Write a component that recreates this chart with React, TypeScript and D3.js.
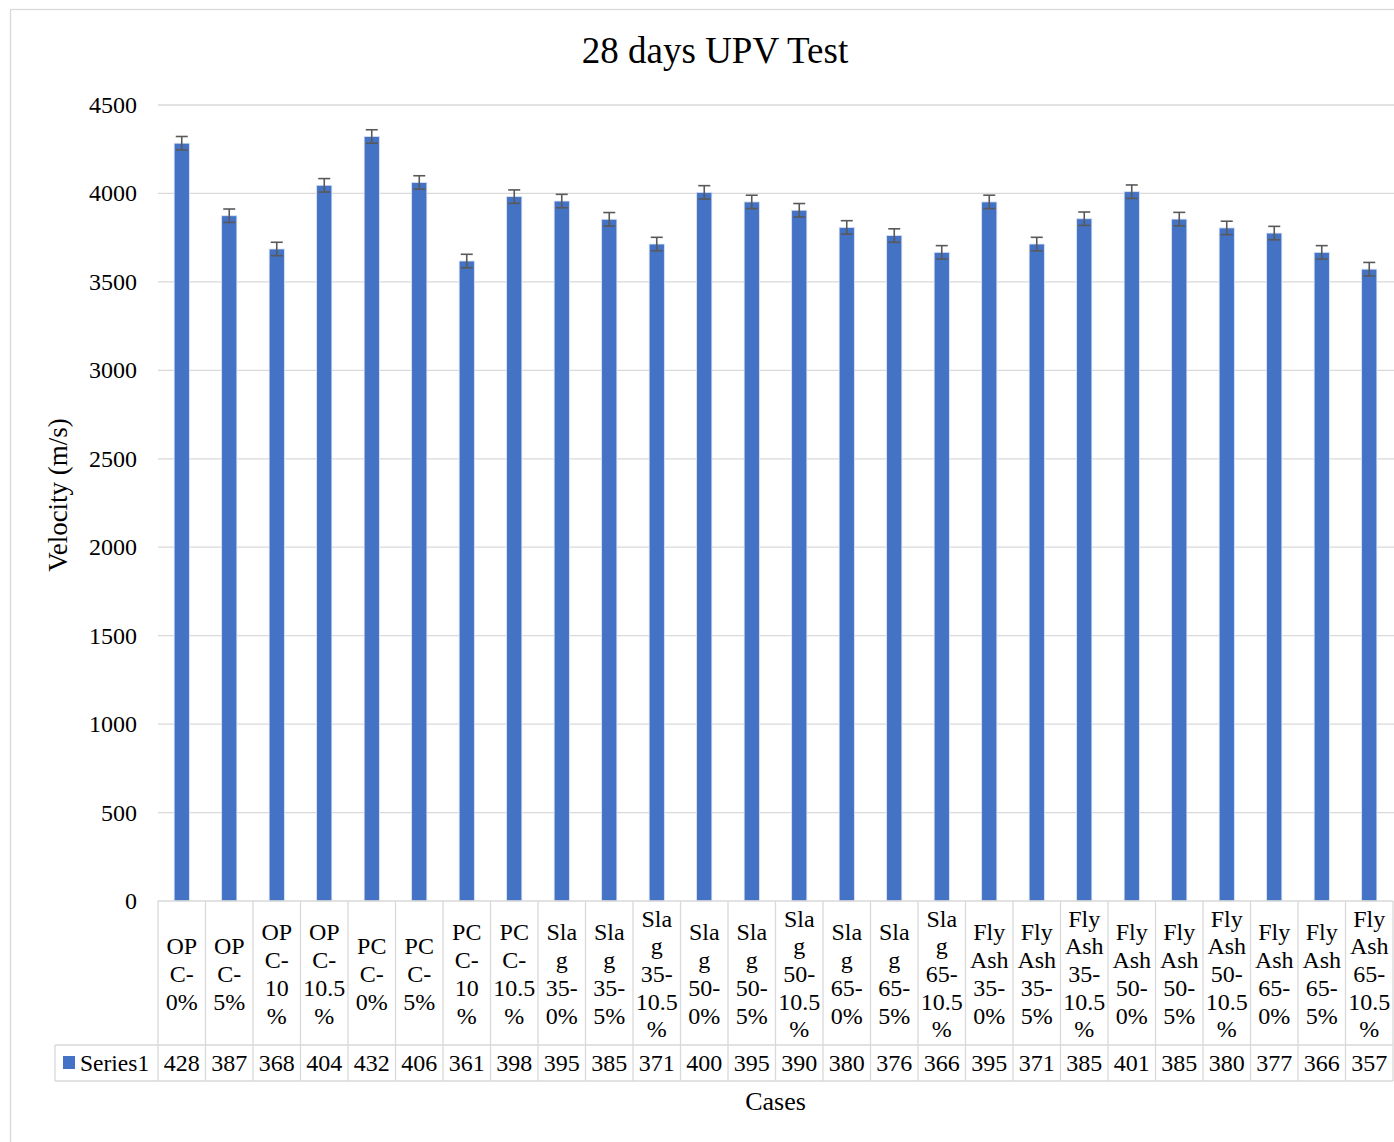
import React from 'react';
import * as d3 from 'd3';

const categories = [
  "OPC-0%", "OPC-5%", "OPC-10%", "OPC-10.5%",
  "PCC-0%", "PCC-5%", "PCC-10%", "PCC-10.5%",
  "Slag 35-0%", "Slag 35-5%", "Slag 35-10.5%",
  "Slag 50-0%", "Slag 50-5%", "Slag 50-10.5%",
  "Slag 65-0%", "Slag 65-5%", "Slag 65-10.5%",
  "Fly Ash 35-0%", "Fly Ash 35-5%", "Fly Ash 35-10.5%",
  "Fly Ash 50-0%", "Fly Ash 50-5%", "Fly Ash 50-10.5%",
  "Fly Ash 65-0%", "Fly Ash 65-5%", "Fly Ash 65-10.5%"
];

const velocity = [
  4284, 3874, 3686, 4046, 4322, 4062, 3618, 3982, 3957, 3854, 3714, 4006, 3952,
  3905, 3808, 3762, 3667, 3952, 3714, 3857, 4010, 3855, 3805, 3776, 3667, 3572
];

const errors = [
  38, 38, 38, 38, 38, 38, 38, 38, 38, 38, 38, 38, 38,
  38, 38, 38, 38, 38, 38, 38, 38, 38, 38, 38, 38, 38
];

// what the data table shows (cut off to 3 digits in the original)
const tableLabels = [
  "428", "387", "368", "404", "432", "406", "361", "398", "395", "385", "371", "400", "395",
  "390", "380", "376", "366", "395", "371", "385", "401", "385", "380", "377", "366", "357"
];

const yTicks = [0, 500, 1000, 1500, 2000, 2500, 3000, 3500, 4000, 4500];

const FONT = "'Liberation Serif', 'Times New Roman', serif";

let ctx: CanvasRenderingContext2D | null = null;
const measure = (s: string) => {
  if (!ctx) {
    ctx = document.createElement('canvas').getContext('2d');
    if (ctx) ctx.font = "24px 'Liberation Serif'";
  }
  return ctx ? ctx.measureText(s).width : s.length * 11;
};

// rough imitation of Excel wrapping in the narrow table cells
const wrap = (label: string, maxW: number) => {
  const tokens: { t: string; space: boolean }[] = [];
  label.split(' ').forEach((w, wi) => {
    const parts = w.split(/(?<=-)/);
    parts.forEach((p, pi) => tokens.push({ t: p, space: wi > 0 && pi === 0 }));
  });
  const lines: string[] = [];
  let cur = '';
  tokens.forEach(({ t, space }) => {
    const joined = cur ? cur + (space ? ' ' : '') + t : t;
    if (measure(joined) <= maxW) { cur = joined; return; }
    if (cur) lines.push(cur);
    cur = '';
    let chunk = '';
    for (const ch of t) {
      if (measure(chunk + ch) <= maxW || !chunk) chunk += ch;
      else { lines.push(chunk); chunk = ch; }
    }
    cur = chunk;
  });
  if (cur) lines.push(cur);
  return lines;
};

const App = () => {
  const left = 158, right = 1393, top = 105, bottom = 901;
  const x = d3.scaleBand<string>().domain(categories).range([left, right]).padding(0);
  const y = d3.scaleLinear().domain([0, 4500]).range([bottom, top]);
  const bw = x.bandwidth();
  const barW = bw * 0.32;

  const headerBottom = 1045, tableBottom = 1081, legendLeft = 55;
  const headerMid = (bottom + headerBottom) / 2 + 1;
  const lineH = 27.7;
  const grid = '#d9d9d9';

  return (
    <svg width={1394} height={1142} style={{ position: 'absolute', left: 0, top: 0, fontFamily: FONT }}>
      <rect x={0} y={0} width={1394} height={1142} fill="#fff" />
      <rect x={10.5} y={9.5} width={1500} height={1300} fill="#fff" stroke={grid} strokeWidth={1.3} />

      <text x={715} y={63} textAnchor="middle" fontSize={37} fill="#000">28 days UPV Test</text>

      {yTicks.map(t => (
        <g key={t}>
          {t > 0 && <line x1={left} x2={1394} y1={y(t)} y2={y(t)} stroke={grid} strokeWidth={1.3} />}
          <text x={137} y={y(t) + 8} textAnchor="end" fontSize={24} fill="#000">{t}</text>
        </g>
      ))}

      {categories.map((c, i) => {
        const cx = (x(c) as number) + bw / 2;
        return (
          <g key={c}>
            <rect x={cx - barW / 2} y={y(velocity[i])} width={barW} height={y(0) - y(velocity[i])}
              fill="#4472c4" stroke="#dbe4f4" strokeWidth={0.8} />
            <g stroke="#595959" strokeWidth={1.6}>
              <line x1={cx} x2={cx} y1={y(velocity[i] + errors[i])} y2={y(velocity[i] - errors[i])} />
              <line x1={cx - 6} x2={cx + 6} y1={y(velocity[i] + errors[i])} y2={y(velocity[i] + errors[i])} />
              <line x1={cx - 6} x2={cx + 6} y1={y(velocity[i] - errors[i])} y2={y(velocity[i] - errors[i])} />
            </g>
          </g>
        );
      })}

      {/* data table */}
      <g stroke={grid} strokeWidth={1.3} fill="none">
        <line x1={left} x2={right} y1={bottom} y2={bottom} />
        <line x1={legendLeft} x2={right} y1={headerBottom} y2={headerBottom} />
        <line x1={legendLeft} x2={right} y1={tableBottom} y2={tableBottom} />
        <line x1={legendLeft} x2={legendLeft} y1={headerBottom} y2={tableBottom} />
        {categories.map(c => (
          <line key={c} x1={x(c) as number} x2={x(c) as number} y1={bottom} y2={tableBottom} />
        ))}
        <line x1={right} x2={right} y1={bottom} y2={tableBottom} />
      </g>

      {categories.map((c, i) => {
        const cx = (x(c) as number) + bw / 2;
        const lines = wrap(c, 42.3);
        return (
          <g key={c} fontSize={24} fill="#000" textAnchor="middle">
            {lines.map((l, j) => (
              <text key={j} x={cx} y={headerMid + (j - (lines.length - 1) / 2) * lineH + 8}>{l}</text>
            ))}
            <text x={cx} y={1071}>{tableLabels[i]}</text>
          </g>
        );
      })}

      <rect x={63} y={1056} width={12} height={13} fill="#4472c4" />
      <text x={80} y={1071} fontSize={23.5} fill="#000">Series1</text>

      <text x={(left + right) / 2} y={1110} textAnchor="middle" fontSize={26} fill="#000">Cases</text>
      <text transform="translate(67,495) rotate(-90)" textAnchor="middle"
        fontSize={27} fill="#000">Velocity (m/s)</text>
    </svg>
  );
};

export default App;
